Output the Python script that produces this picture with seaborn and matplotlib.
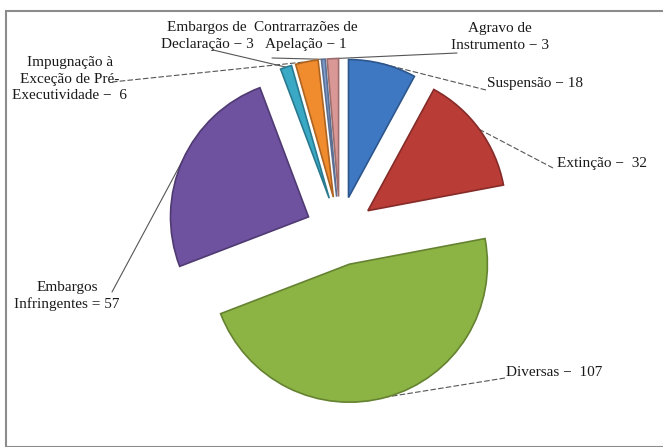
import numpy as np
import matplotlib
matplotlib.use("Agg")
import matplotlib.pyplot as plt
import seaborn as sns
from matplotlib.patches import Rectangle

sns.set_style("white")
plt.rcParams["font.family"] = ["Liberation Serif", "DejaVu Serif"]

# ==============================
# Dados
# ==============================

categorias = [
    "Suspensão", "Extinção", "Diversas", "Embargos Infringentes",
    "Embargos de Declaração", "Impugnação à Exceção de Pré-Executividade",
    "Contrarrazões de Apelação", "Agravo de Instrumento",
]
valores = [18, 32, 107, 57, 3, 6, 1, 3]
rotulos = [
    "Suspensão − 18",
    "Extinção −  32",
    "Diversas −  107",
    "Embargos\nInfringentes = 57",
    "Embargos de\nDeclaração − 3",
    "Impugnação à\nExceção de Pré-\nExecutividade −  6",
    "Contrarrazões de\nApelação − 1",
    "Agravo de\nInstrumento − 3",
]
cores = ["#3f78c2", "#b93c37", "#8cb444", "#6e519f",
         "#3aa9c6", "#f08b2e", "#7d9acb", "#d99896"]

# ==============================
# Layout (pixels da imagem, y para baixo)
# ==============================

W, H = 663, 447
CENTRO = (340, 231)
RAIO = 138
EXPLODE = 0.25 * RAIO  # deslocamento absoluto das fatias

# posicao do texto, alinhamento, ponto de partida da linha guia, estilo da linha
layout = [
    ((487, 84), "left", (486, 90), (0, (5, 2))),
    ((557, 163), "left", (553, 168), (0, (5, 2))),
    ((506, 373), "left", (505, 378), (0, (5, 2))),
    ((67, 296), "center", (112, 292), "-"),
    ((207, 36), "center", (213, 50), "-"),
    ((70, 79), "center", (112, 82), (0, (5, 2))),
    ((306, 36), "center", (272, 58), "-"),
    ((500, 37), "center", (457, 53), "-"),
]


def img(p):
    return (p[0], H - p[1])


fig = plt.figure(figsize=(W / 100, H / 100), dpi=100)
ax = fig.add_axes([0, 0, 1, 1])

wedges, _ = ax.pie(
    valores,
    colors=cores,
    startangle=90,
    counterclock=False,
    explode=[EXPLODE] * len(valores),
    radius=RAIO,
    center=img(CENTRO),
    frame=True,
)
ax.set_xlim(0, W)
ax.set_ylim(0, H)
ax.set_aspect("equal")
ax.axis("off")

# borda mais escura nas fatias (efeito de relevo)
for w, c in zip(wedges, cores):
    escuro = tuple(np.array(matplotlib.colors.to_rgb(c)) * 0.72)
    w.set_edgecolor(escuro)
    w.set_linewidth(1.2)

cx, cy = img(CENTRO)
for w, txt, (pos, ha, inicio, estilo) in zip(wedges, rotulos, layout):
    meio = np.deg2rad((w.theta1 + w.theta2) / 2)
    fx = cx + (EXPLODE + RAIO) * np.cos(meio)
    fy = cy + (EXPLODE + RAIO) * np.sin(meio)
    ax.plot([img(inicio)[0], fx], [img(inicio)[1], fy],
            color="#555555", lw=0.8, ls=estilo, zorder=0)
    ax.text(*img(pos), txt, ha=ha, va="center", multialignment="center",
            fontsize=11, color="#1a1a1a", linespacing=1.35)

fig.patches.append(Rectangle((6 / W, 0), 1, 1 - 11 / H, transform=fig.transFigure,
                             fill=False, edgecolor="#8c8c8c", lw=1.5))

fig.savefig("out.png", dpi=100, facecolor="white")
